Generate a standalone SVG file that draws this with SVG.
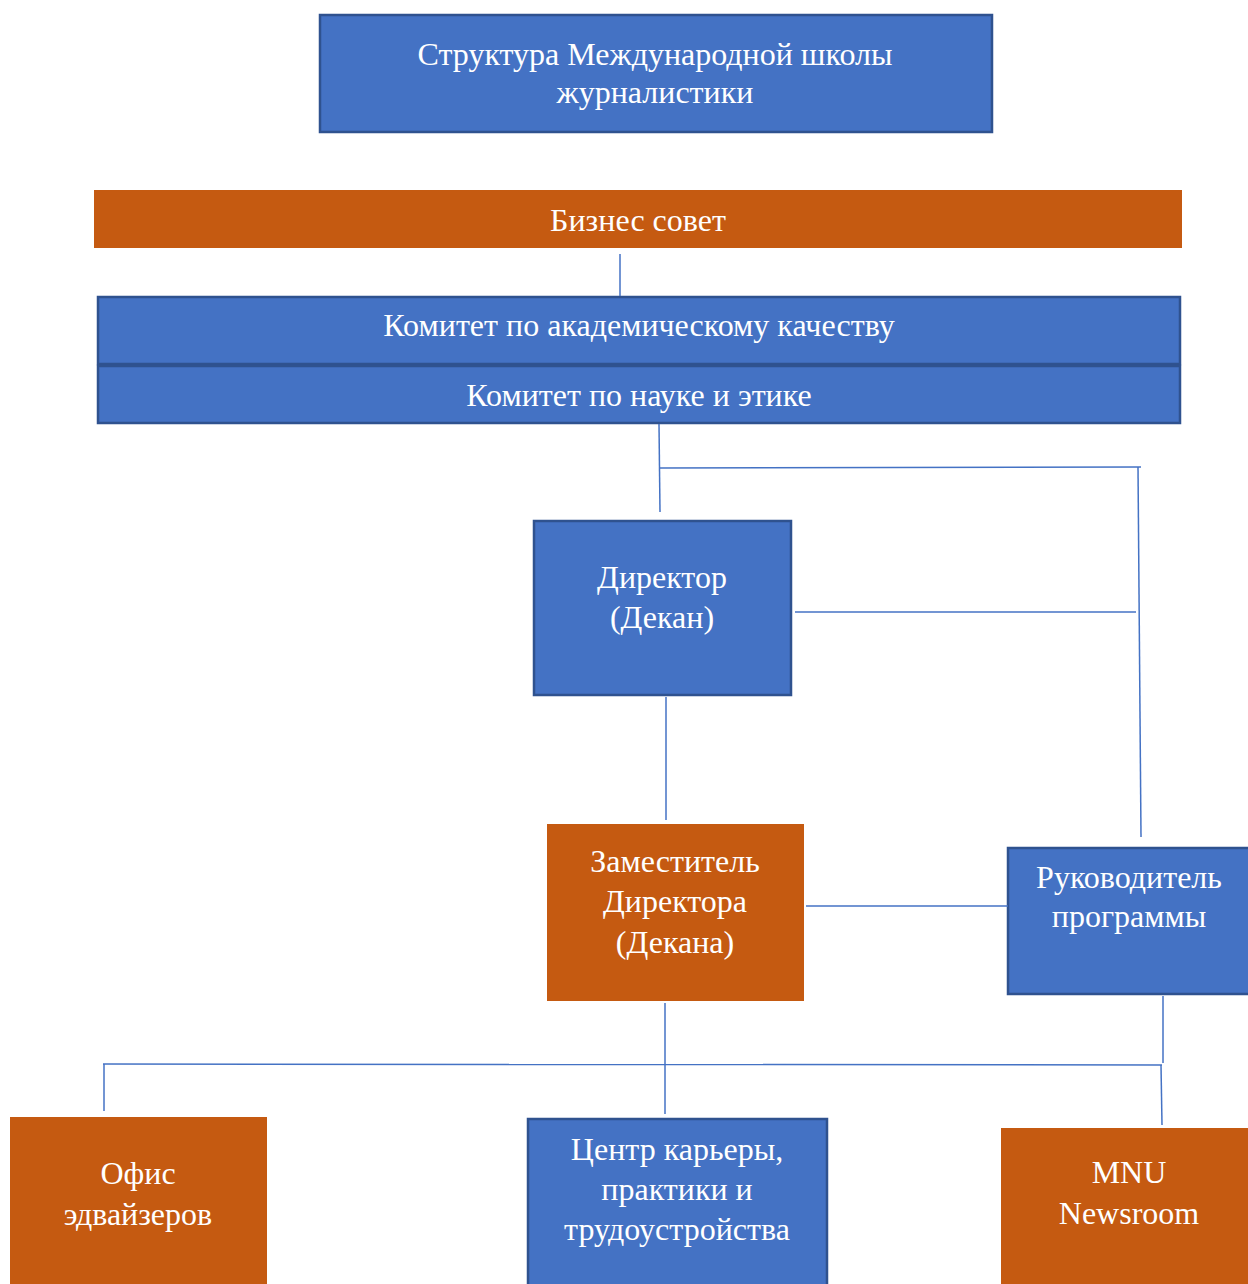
<svg xmlns="http://www.w3.org/2000/svg" width="1248" height="1284" viewBox="0 0 1248 1284">
<style>
.b{fill:#4472C4;stroke:#2F528F;stroke-width:2.5}
.o{fill:#C55A11}
.t{font-family:"Liberation Serif","Times New Roman",serif;font-size:32px;fill:#fff;text-anchor:middle}
.c{stroke:#4472C4;stroke-width:1.5;fill:none}
</style>
<rect width="1248" height="1284" fill="#fff"/>
<g id="title"><rect class="b" x="320" y="15" width="672" height="117"/>
<text class="t" x="655" y="65">Структура Международной школы</text>
<text class="t" x="655" y="103">журналистики</text></g>
<g id="business"><rect class="o" x="94" y="190" width="1088" height="58"/>
<text class="t" x="638" y="231">Бизнес совет</text></g>
<g id="committee1"><rect class="b" x="98" y="297" width="1082" height="67"/>
<text class="t" x="639" y="336">Комитет по академическому качеству</text></g>
<g id="committee2"><rect class="b" x="98" y="366" width="1082" height="57"/>
<text class="t" x="639" y="406">Комитет по науке и этике</text></g>
<g id="director"><rect class="b" x="534" y="521" width="257" height="174"/>
<text class="t" x="662" y="588">Директор</text>
<text class="t" x="662" y="628">(Декан)</text></g>
<g id="deputy"><rect class="o" x="547" y="824" width="257" height="177"/>
<text class="t" x="675" y="872">Заместитель</text>
<text class="t" x="675" y="912">Директора</text>
<text class="t" x="675" y="953">(Декана)</text></g>
<g id="program"><rect class="b" x="1008" y="848" width="242" height="146"/>
<text class="t" x="1129" y="888">Руководитель</text>
<text class="t" x="1129" y="927">программы</text></g>
<g id="office"><rect class="o" x="10" y="1117" width="257" height="167"/>
<text class="t" x="138" y="1184">Офис</text>
<text class="t" x="138" y="1225">эдвайзеров</text></g>
<g id="career"><rect class="b" x="528" y="1119" width="299" height="168"/>
<text class="t" x="677" y="1160">Центр карьеры,</text>
<text class="t" x="677" y="1200">практики и</text>
<text class="t" x="677" y="1240">трудоустройства</text></g>
<g id="newsroom"><rect class="o" x="1001" y="1128" width="247" height="156"/>
<text class="t" x="1129" y="1183">MNU</text>
<text class="t" x="1129" y="1224">Newsroom</text></g>
<g id="connectors">
<line class="c" x1="620" y1="254" x2="620" y2="296"/>
<line class="c" x1="659" y1="424" x2="660" y2="512"/>
<line class="c" x1="660" y1="468" x2="1141" y2="467"/>
<line class="c" x1="1138" y1="467" x2="1141" y2="837"/>
<line class="c" x1="795" y1="612" x2="1136" y2="612"/>
<line class="c" x1="666" y1="697" x2="666" y2="820"/>
<line class="c" x1="806" y1="906" x2="1008" y2="906"/>
<line class="c" x1="665" y1="1003" x2="665" y2="1114"/>
<line class="c" x1="1163" y1="996" x2="1163" y2="1063"/>
<line class="c" x1="103" y1="1064" x2="1162" y2="1065"/>
<line class="c" x1="104" y1="1064" x2="104" y2="1111"/>
<line class="c" x1="1161" y1="1065" x2="1162" y2="1125"/>
</g>
</svg>
